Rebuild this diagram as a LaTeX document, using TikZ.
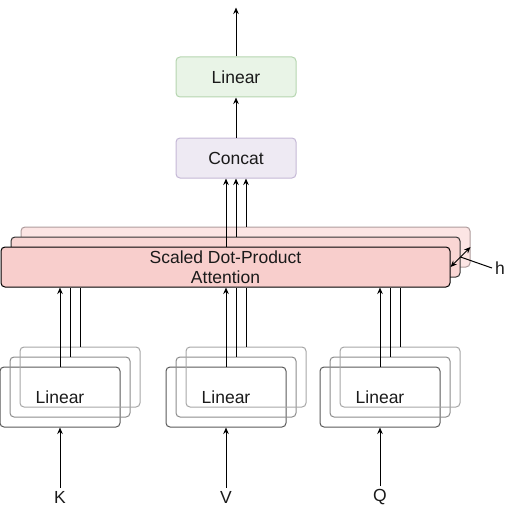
\documentclass[tikz,border=0pt]{standalone}
\usepackage{fontspec}
\setmainfont{Liberation Sans}
\usetikzlibrary{positioning, arrows.meta, calc}
\definecolor{outfill}{HTML}{E9F4E7}
\definecolor{outdraw}{HTML}{B5D5AF}
\definecolor{catfill}{HTML}{EEEAF3}
\definecolor{catdraw}{HTML}{C5B8D6}
\definecolor{attfill}{HTML}{F8CECC}
\definecolor{attfillb}{HTML}{F9D6D4}
\definecolor{attfillc}{HTML}{FCE5E4}
\definecolor{attdrawc}{HTML}{AE9C9C}
\definecolor{txt}{HTML}{1A1A1A}
\tikzset{
  block/.style={
    rectangle,
    rounded corners=4pt,
    line width=1pt,
    minimum width=120pt,
    minimum height=40pt,
    inner sep=0pt,
    text centered,
    text=txt,
    font=\fontsize{17.5}{20}\selectfont
  },
  att/.style={
    block,
    minimum width=449pt,
    align=center
  },
  linbox/.style={
    block,
    minimum height=60pt
  },
  lbl/.style={
    inner sep=3pt,
    text=txt,
    font=\fontsize{17.5}{20}\selectfont
  },
  arrow/.style={
    draw=black,
    line width=1pt,
    ->,
    >={Stealth[length=6.5pt, width=5.5pt]}
  },
  plain/.style={
    draw=black,
    line width=1pt
  }
}

\begin{document}
\begin{tikzpicture}[x=1pt, y=-1pt]
\useasboundingbox (0,0) rectangle (521,508);

% nodes
\node[block, fill=outfill, draw=outdraw] (out) at (236,77) {Linear};
\node[block, fill=catfill, draw=catdraw, below = 40pt of out] (concat) {Concat};

\node[att, fill=attfillc, draw=attdrawc] (att3) at (245.5,247) {};
\node[att, fill=attfillb, draw=black!80, xshift=-10pt, yshift=-10pt] (att2) at (att3) {};
\node[att, fill=attfill, draw=black, xshift=-10pt, yshift=-10pt] (att1) at (att2)
  {Scaled Dot-Product\\Attention};

\node[lbl] (h) at (500,268) {h};

% K, V, Q stacks
\node[linbox, draw=black!65] (lk1) at (60,397) {Linear};
\node[linbox, draw=black!45, xshift=10pt, yshift=10pt] (lk2) at (lk1) {};
\node[linbox, draw=black!35, xshift=10pt, yshift=10pt] (lk3) at (lk2) {};

\node[linbox, draw=black!65] (lv1) at (226,397) {Linear};
\node[linbox, draw=black!45, xshift=10pt, yshift=10pt] (lv2) at (lv1) {};
\node[linbox, draw=black!35, xshift=10pt, yshift=10pt] (lv3) at (lv2) {};

\node[linbox, draw=black!65] (lq1) at (380,397) {Linear};
\node[linbox, draw=black!45, xshift=10pt, yshift=10pt] (lq2) at (lq1) {};
\node[linbox, draw=black!35, xshift=10pt, yshift=10pt] (lq3) at (lq2) {};

\node[lbl] (k) at (60,497) {K};
\node[lbl] (v) at (226,497) {V};
\node[lbl] (q) at (380,497) {Q};

% edges

%% inputs
\draw [arrow] (k.north) -- (lk1.south);
\draw [arrow] (v.north) -- (lv1.south);
\draw [arrow] (q.north) -- (lq1.south);

%% heads into attention
\draw [arrow] (lk1.north) -- (lk1.north |- att1.south);
\draw [plain] (lk2.north) -- (lk2.north |- att1.south);
\draw [plain] (lk3.north) -- (lk3.north |- att1.south);
\draw [arrow] (lv1.north) -- (lv1.north |- att1.south);
\draw [plain] (lv2.north) -- (lv2.north |- att1.south);
\draw [plain] (lv3.north) -- (lv3.north |- att1.south);
\draw [arrow] (lq1.north) -- (lq1.north |- att1.south);
\draw [plain] (lq2.north) -- (lq2.north |- att1.south);
\draw [plain] (lq3.north) -- (lq3.north |- att1.south);

%% attention to concat
\coordinate[xshift=-10pt] (c1) at (concat.south);
\coordinate (c2) at (concat.south);
\coordinate[xshift=10pt] (c3) at (concat.south);
\draw [arrow] (c1 |- att1.north) -- (c1);
\draw [arrow] (c2 |- att2.north) -- (c2);
\draw [arrow] (c3 |- att3.north) -- (c3);

%% h
\draw [arrow, <->] (att1.east) -- (att3.east);
\draw [plain] (h.west) -- ($(att1.east)!0.5!(att3.east)$);

%% output
\coordinate[above = 49pt of out.north] (top);
\draw [arrow] (concat.north) -- (out.south);
\draw [arrow] (out.north) -- (top);

\end{tikzpicture}
\end{document}
